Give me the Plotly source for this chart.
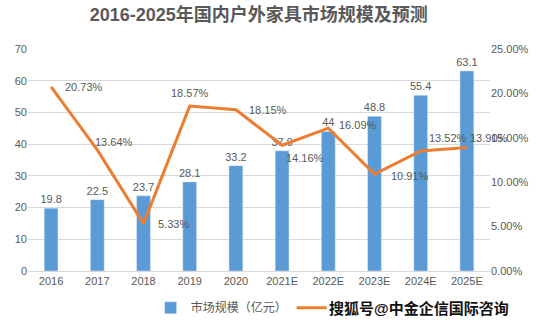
import plotly.graph_objects as go

categories = ["2016", "2017", "2018", "2019", "2020", "2021E", "2022E", "2023E", "2024E", "2025E"]
market_size = [19.8, 22.5, 23.7, 28.1, 33.2, 37.9, 44, 48.8, 55.4, 63.1]
growth_rate = [20.73, 13.64, 5.33, 18.57, 18.15, 14.16, 16.09, 10.91, 13.52, 13.90]
# label offsets (px) relative to each line point: (xshift, yshift, xanchor)
label_offsets = [(12, 0, "left"), (-4, 8, "left"), (12, 0, "left"), (0, 13, "center"),
                 (11, 0, "left"), (2, -13, "left"), (9, 3, "left"), (14, -2, "left"),
                 (6, 13, "left"), (1, 10, "left")]

grey = "#595959"
font_family = "Liberation Sans, Arial, Noto Sans CJK SC, sans-serif"

fig = go.Figure()
fig.add_trace(go.Bar(
    x=categories, y=market_size, name="市场规模（亿元）",
    marker=dict(color="#5B9BD5"), width=0.3,
    text=[str(v) for v in market_size], textposition="outside",
    constraintext="none",
    textfont=dict(color=grey, size=11), cliponaxis=False,
))
fig.add_trace(go.Scatter(
    x=categories, y=growth_rate, name="增长率", yaxis="y2",
    mode="lines", line=dict(color="#ED7D31", width=3),
    cliponaxis=False,
))
# on a category axis, annotation x uses the category's serial index
for idx, (val, (dx, dy, anc)) in enumerate(zip(growth_rate, label_offsets)):
    fig.add_annotation(x=idx, y=val, xref="x", yref="y2", text=f"{val:.2f}%",
                       showarrow=False, xanchor=anc, yanchor="middle",
                       xshift=dx, yshift=dy, font=dict(color=grey, size=11))

fig.update_layout(
    width=538, height=324,
    margin=dict(l=28, r=48, t=49, b=53, autoexpand=False),
    paper_bgcolor="white", plot_bgcolor="white",
    font=dict(family=font_family, color=grey, size=11),
    title=dict(text="<b>2016-2025年国内户外家具市场规模及预测</b>", x=0.481, xanchor="center",
               y=0.955, yanchor="middle", font=dict(size=18, color=grey)),
    xaxis=dict(type="category", range=[-0.5, len(categories) - 0.5],
               showgrid=False, showline=True, linecolor="#D9D9D9", ticks="",
               tickfont=dict(size=11, color=grey), automargin=False),
    yaxis=dict(range=[0, 70], dtick=10, showgrid=True, gridcolor="#D9D9D9",
               zeroline=False, tickfont=dict(size=11, color=grey), automargin=False),
    yaxis2=dict(range=[0, 25], dtick=5, overlaying="y", side="right",
                showgrid=False, zeroline=False, ticksuffix="%", tickformat=".2f",
                tickfont=dict(size=11, color=grey), automargin=False),
    showlegend=True,
    legend=dict(orientation="h", xref="container", yref="container",
                x=0.28, xanchor="left", y=0.05, yanchor="middle",
                font=dict(size=12, color=grey), bgcolor="rgba(0,0,0,0)"),
    bargap=0.7,
)
fig.add_annotation(text="<b>搜狐号@中金企信国际咨询</b>", xref="paper", yref="paper",
                   x=1.043, xanchor="right", y=-0.167, yanchor="middle", showarrow=False,
                   bgcolor="white", borderpad=0, font=dict(size=15, color="#111111"))

fig.write_html("out.html")
